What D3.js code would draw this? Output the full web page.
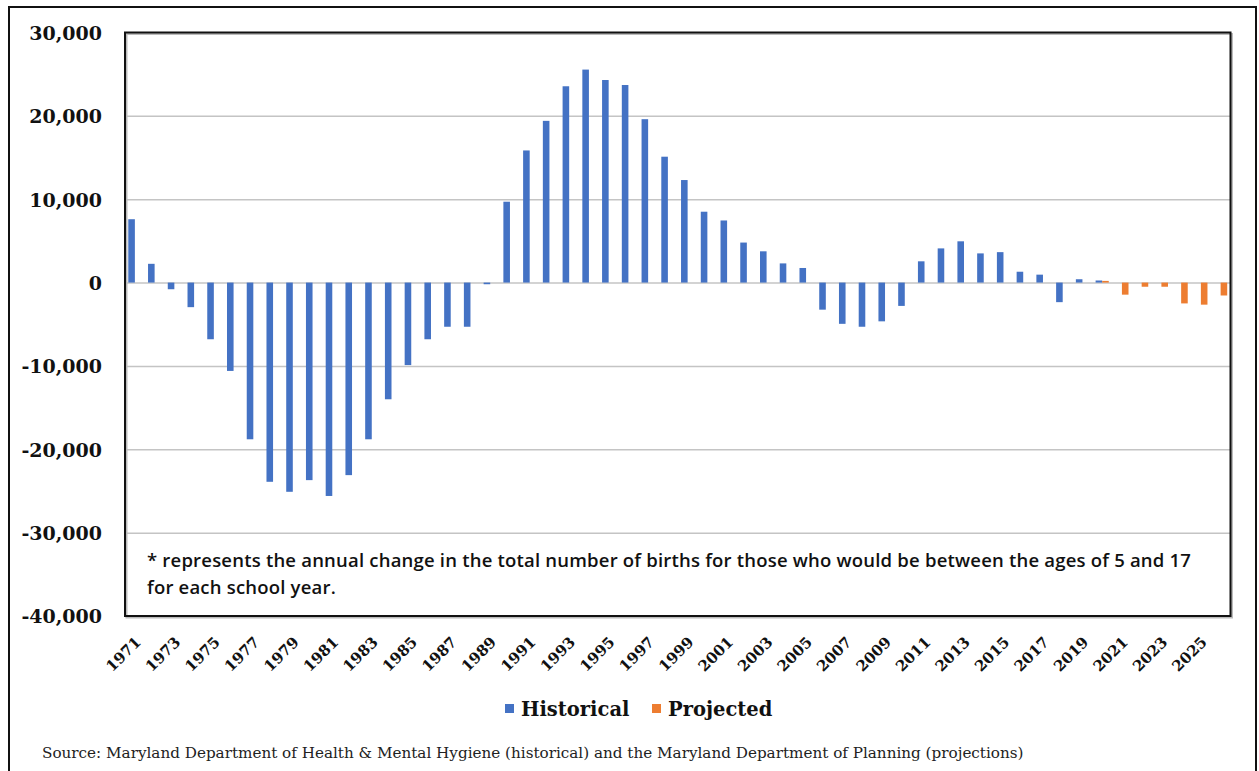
<!DOCTYPE html>
<html>
<head>
    <meta charset='utf-8'>
    <title>Annual change in births</title>
    <style>
        body { margin: 0; background: #fff; }
        svg { display: block; }
        .ylab text { font-family: 'DejaVu Serif', serif; font-weight: bold; font-size: 19px; fill: #111; }
        .xlab { font-family: 'DejaVu Serif', serif; font-weight: bold; font-size: 15px; fill: #111; }
        .legend text { font-family: 'DejaVu Serif', serif; font-weight: bold; font-size: 19.5px; fill: #111; }
        .note { font-family: 'Open Sans', sans-serif; font-weight: 600; font-size: 18.5px; letter-spacing: 0.2px; fill: #111; }
        .source { font-family: 'DejaVu Serif', serif; font-size: 15.2px; fill: #222; }
    </style>
</head>
<body>
<svg width="1259" height="771"></svg>

<script src="https://cdn.jsdelivr.net/npm/d3@7"></script>
<script>
    // years on the category axis
    const YEARS = d3.range(1971, 2027);

    // historical births change, 1971-2020
    const HISTORICAL = [
        7600, 2250, -800, -2950, -6800, -10600, -18800, -23900, -25100, -23700,
        -25600, -23100, -18800, -14000, -9900, -6800, -5300, -5300, -200, 9700,
        15850, 19400, 23550, 25550, 24300, 23700, 19600, 15100, 12300, 8500,
        7450, 4800, 3750, 2300, 1750, -3250, -4950, -5300, -4650, -2800,
        2550, 4100, 4950, 3500, 3650, 1300, 950, -2350, 400, 250
    ];

    // projected births change, 2020-2026
    const PROJ_YEARS = [2020, 2021, 2022, 2023, 2024, 2025, 2026];
    const PROJECTED = [200, -1450, -500, -500, -2500, -2650, -1550];

    const Y_TICKS = [-40000, -30000, -20000, -10000, 0, 10000, 20000, 30000];
    const SERIES = ['Historical', 'Projected'];
    const COLORS = ['#4472C4', '#ED7D31'];

    const NOTE = [
        '* represents the annual change in the total number of births for those who would be between the ages of 5 and 17',
        'for each school year.'
    ];
    const SOURCE = 'Source: Maryland Department of Health & Mental Hygiene (historical) and the Maryland Department of Planning (projections)';

    const bars = [];
    HISTORICAL.forEach((v, i) => bars.push({year: YEARS[i], series: 'Historical', value: v}));
    PROJECTED.forEach((v, i) => bars.push({year: PROJ_YEARS[i], series: 'Projected', value: v}));

    const svg = d3.select('svg');
    const plotL = 125, plotT = 32.5, plotR = 1230.5, plotB = 616;

    // outer frame
    svg.append('rect')
        .attr('x', 9).attr('y', 7)
        .attr('width', 1247).attr('height', 800)
        .attr('fill', 'none').attr('stroke', '#111').attr('stroke-width', 2);

    const x0 = d3.scaleBand().domain(YEARS).range([plotL, plotR]).padding(0);
    const x1 = d3.scaleBand().domain(SERIES).range([0, x0.bandwidth()])
        .paddingInner(0).paddingOuter(0.5);
    const y = d3.scaleLinear().domain([-40000, 30000]).range([plotB, plotT]);
    const color = d3.scaleOrdinal().domain(SERIES).range(COLORS);

    const fmt = d3.format(',');

    // gridlines + y labels
    const yAxis = svg.append('g')
        .attr('class', 'ylab')
        .attr('transform', `translate(${plotL},0)`)
        .call(d3.axisLeft(y).tickValues(Y_TICKS)
            .tickSize(-(plotR - plotL)).tickPadding(23)
            .tickFormat(d => fmt(d).replace('\u2212', '-')));
    yAxis.select('.domain').remove();
    yAxis.selectAll('line').attr('stroke', '#c4c4c4').attr('stroke-width', 1.5);
    yAxis.selectAll('text').attr('dy', '0.36em');

    // bars
    svg.append('g')
        .selectAll('rect')
        .data(bars)
        .enter()
        .append('rect')
        .attr('x', d => x0(d.year) + x1(d.series))
        .attr('width', x1.bandwidth())
        .attr('y', d => y(Math.max(0, d.value)))
        .attr('height', d => Math.abs(y(d.value) - y(0)))
        .attr('fill', d => color(d.series));

    // plot frame with soft shadow
    svg.append('rect')
        .attr('x', plotL + 1.5).attr('y', plotT + 1.5)
        .attr('width', plotR - plotL).attr('height', plotB - plotT)
        .attr('fill', 'none').attr('stroke', '#bbb').attr('stroke-width', 2);
    svg.append('rect')
        .attr('x', plotL).attr('y', plotT)
        .attr('width', plotR - plotL).attr('height', plotB - plotT)
        .attr('fill', 'none').attr('stroke', '#111').attr('stroke-width', 2);

    // rotated year labels, every other year
    svg.append('g')
        .selectAll('text')
        .data(YEARS.filter((d, i) => i % 2 === 0))
        .enter()
        .append('text')
        .attr('class', 'xlab')
        .attr('text-anchor', 'end')
        .attr('transform', d => `translate(${x0(d) + x0.bandwidth() / 2 + 7},643) rotate(-45)`)
        .text(d => d);

    // note inside plot
    svg.append('g')
        .selectAll('text')
        .data(NOTE)
        .enter()
        .append('text')
        .attr('class', 'note')
        .attr('x', 147)
        .attr('y', (d, i) => 567 + i * 27)
        .text(d => d);

    // legend
    const legend = svg.append('g').attr('class', 'legend');
    const legendX = [505, 652];
    SERIES.forEach((s, i) => {
        legend.append('rect')
            .attr('x', legendX[i]).attr('y', 704)
            .attr('width', 9).attr('height', 9)
            .attr('fill', color(s));
        legend.append('text')
            .attr('x', legendX[i] + 16).attr('y', 716)
            .text(s);
    });

    // source
    svg.append('text')
        .attr('class', 'source')
        .attr('x', 42).attr('y', 758)
        .text(SOURCE);
</script>
</body>
</html>
